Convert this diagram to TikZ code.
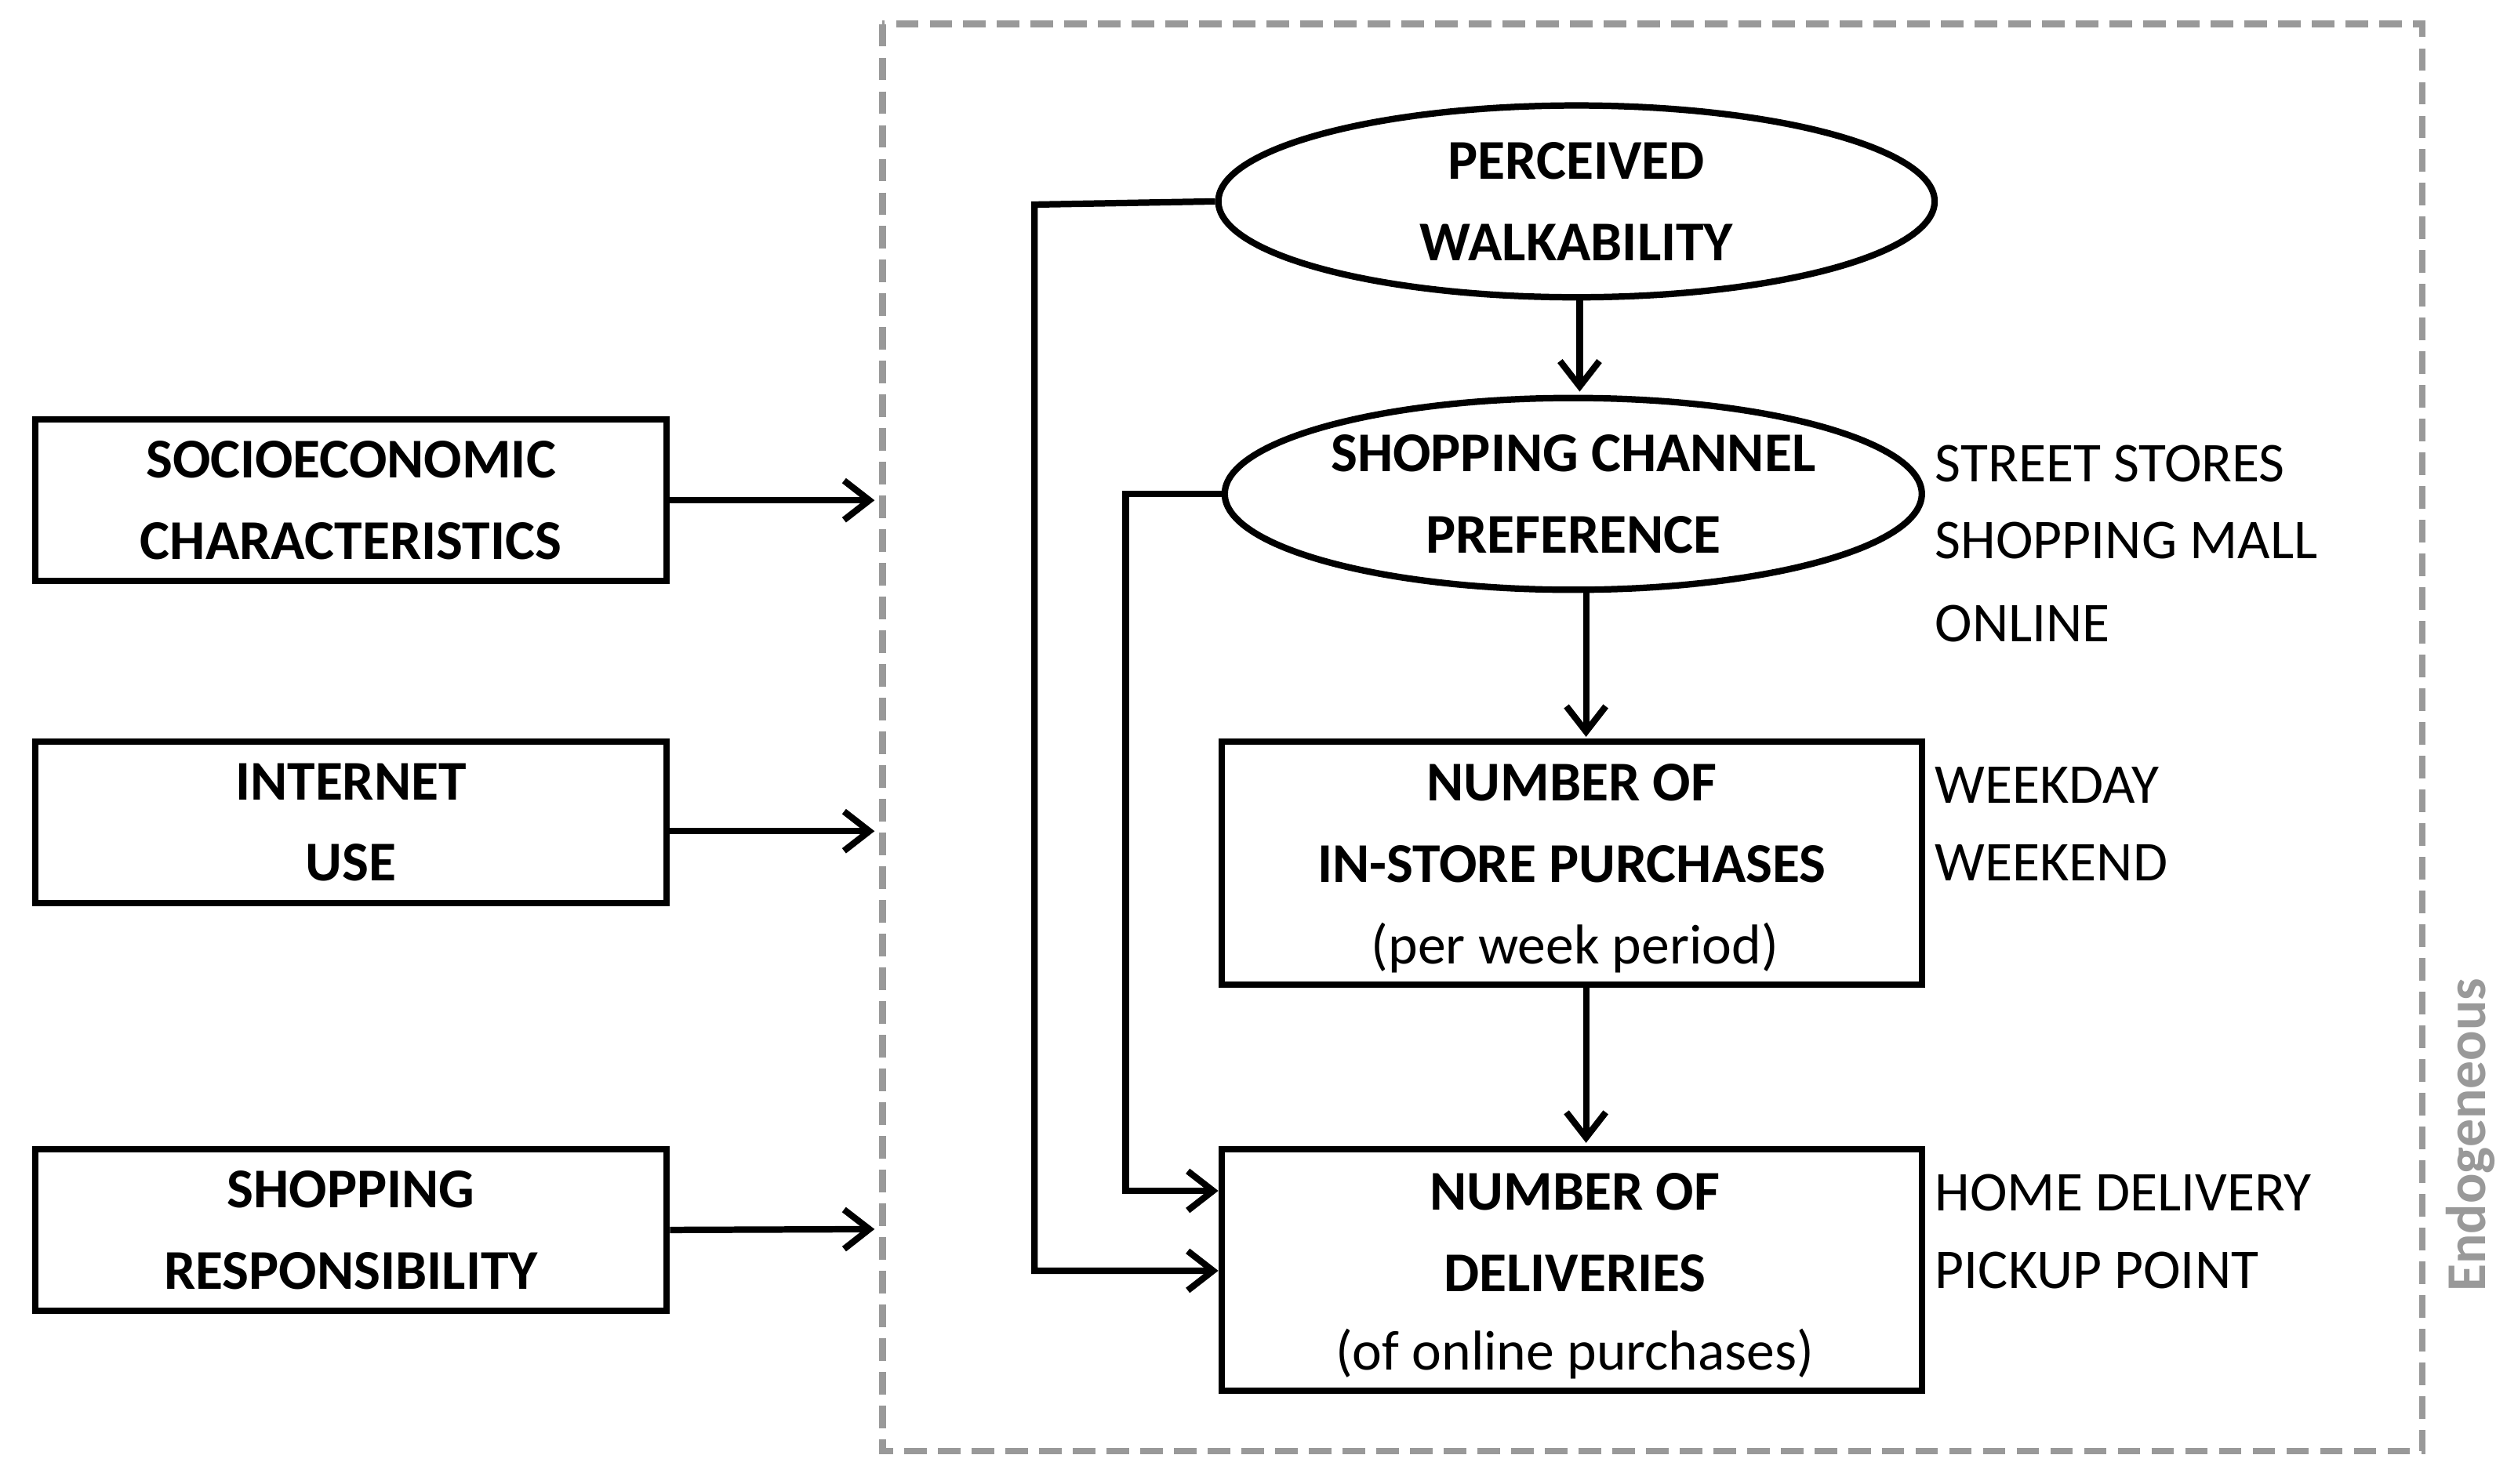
\documentclass[tikz,border=0pt]{standalone}
\usepackage{fontspec}
\setmainfont{Carlito}
\usetikzlibrary{arrows.meta,shapes.geometric}
\begin{document}
\begin{tikzpicture}[x=0.02cm,y=-0.02cm,
  ln/.style={line width=2.3pt},
  arr/.style={ln,-{Straight Barb[length=9pt,width=14pt,line width=2.3pt]}},
  bx/.style={draw,ln,font=\fontsize{20}{29}\selectfont\bfseries,align=center,inner sep=0pt},
  ell/.style={draw,ln,ellipse,font=\fontsize{20}{29}\selectfont\bfseries,align=center,inner sep=0pt},
  side/.style={anchor=west,font=\fontsize{20}{23}\selectfont,inner sep=0pt}]
\useasboundingbox (0,0) rectangle (1568,928);
\draw[gray!80,line width=2.3pt,dash pattern=on 8pt off 4pt] (552,15) rectangle (1515,908);
\node[rotate=90,text=gray!80,font=\fontsize{20}{23}\selectfont\bfseries] (endo) at (1545,710) {Endogeneous};
\node[bx,minimum width=395*0.02cm,minimum height=101*0.02cm] (se) at (219.5,313) {SOCIOECONOMIC\\CHARACTERISTICS};
\node[bx,minimum width=395*0.02cm,minimum height=101*0.02cm] (iu) at (219.5,514.5) {INTERNET\\USE};
\node[bx,minimum width=395*0.02cm,minimum height=101*0.02cm] (sr) at (219.5,769.5) {SHOPPING\\RESPONSIBILITY};
\coordinate (a1) at (547,313); \coordinate (a2) at (547,520); \coordinate (a3) at (547,769);
\draw[arr] (se.east) -- (a1);
\draw[arr] (iu.east |- a2) -- (a2);
\draw[arr] (sr.east) -- (a3);
\node[ell,minimum width=448*0.02cm,minimum height=120*0.02cm] (pw) at (986,126) {PERCEIVED\\WALKABILITY};
\node[ell,minimum width=436*0.02cm,minimum height=120*0.02cm] (sc) at (984,309) {SHOPPING CHANNEL\\PREFERENCE};
\node[bx,minimum width=438*0.02cm,minimum height=152*0.02cm] (ns) at (983,540) {};
\node[font=\fontsize{20}{29}\selectfont\bfseries,align=center] (nst) at (983,515) {NUMBER OF\\IN-STORE PURCHASES};
\node[font=\fontsize{20}{23}\selectfont] (nsp) at (985,593) {(per week period)};
\node[bx,minimum width=438*0.02cm,minimum height=151*0.02cm] (nd) at (983,794.5) {};
\node[font=\fontsize{20}{29}\selectfont\bfseries,align=center] (ndt) at (985,771) {NUMBER OF\\DELIVERIES};
\node[font=\fontsize{20}{23}\selectfont] (ndp) at (985,847) {(of online purchases)};
\draw[arr] (988,186) -- (988,245);
\draw[arr] (992,370) -- (992,461);
\draw[arr] (992,617) -- (992,715);
\draw[arr] (pw.west) -- (647,128) -- (647,795) -- (nd.west |- 0,795);
\draw[arr] (sc.west) -- (704,309) -- (704,745) -- (nd.west |- 0,745);
\node[side] (s1) at (1210,290) {STREET STORES};
\node[side] (s2) at (1210,338) {SHOPPING MALL};
\node[side] (s3) at (1210,390) {ONLINE};
\node[side] (s4) at (1210,491) {WEEKDAY};
\node[side] (s5) at (1210,540) {WEEKEND};
\node[side] (s6) at (1210,746) {HOME DELIVERY};
\node[side] (s7) at (1210,795) {PICKUP POINT};
\end{tikzpicture}
\end{document}
